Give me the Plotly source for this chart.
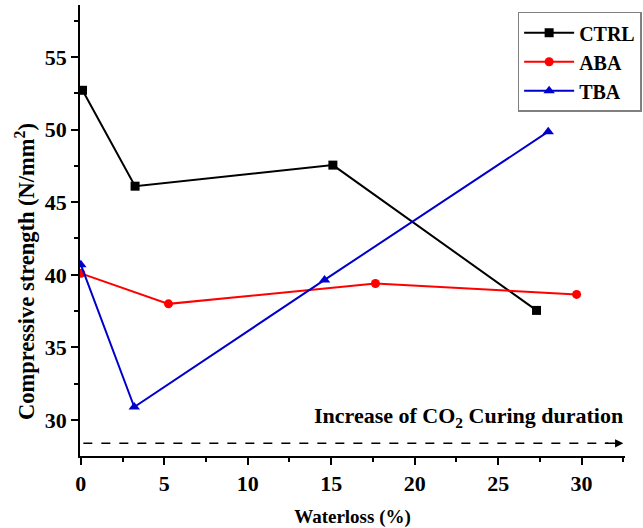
import plotly.graph_objects as go

# Data
ctrl_x = [0.1, 3.25, 15.1, 27.3]
ctrl_y = [52.7, 46.1, 47.55, 37.55]
aba_x = [0.0, 5.25, 17.65, 29.7]
aba_y = [40.1, 38.0, 39.4, 38.65]
tba_x = [0.0, 3.2, 14.6, 28.0]
tba_y = [40.7, 30.9, 39.65, 49.85]

x_ticks = [0, 5, 10, 15, 20, 25, 30]
y_ticks = [30, 35, 40, 45, 50, 55]

FONT = "Liberation Serif"

fig = go.Figure()
fig.add_trace(go.Scatter(x=ctrl_x, y=ctrl_y, mode="lines+markers", name="<b>CTRL</b>",
                         line=dict(color="black", width=2),
                         marker=dict(symbol="square", size=9, color="black")))
fig.add_trace(go.Scatter(x=aba_x, y=aba_y, mode="lines+markers", name="<b>ABA</b>",
                         line=dict(color="red", width=2),
                         marker=dict(symbol="circle", size=9, color="red")))
fig.add_trace(go.Scatter(x=tba_x, y=tba_y, mode="lines+markers", name="<b>TBA</b>",
                         line=dict(color="#0000cc", width=2),
                         marker=dict(symbol="triangle-up", size=10, color="#0000cc")))

# Dashed arrow: increase of CO2 curing duration
arrow_y = 28.4
fig.add_shape(type="line", xref="x", yref="y", x0=0.15, x1=31.6, y0=arrow_y, y1=arrow_y,
              line=dict(color="black", width=1.5, dash="dash"))
fig.add_annotation(x=32.5, y=arrow_y, ax=31.3, ay=arrow_y, xref="x", yref="y",
                   axref="x", ayref="y", showarrow=True, arrowhead=2, arrowsize=1.1,
                   arrowwidth=1.5, arrowcolor="black", text="")
fig.add_annotation(x=32.6, y=29.1, xref="x", yref="y", xanchor="right", yanchor="bottom",
                   showarrow=False,
                   text="<b>Increase of CO<sub>2</sub> Curing duration</b>",
                   font=dict(family=FONT, size=22, color="black", weight="bold"))

# Y axis title (placed as rotated annotation to match the reference position)
fig.add_annotation(x=-0.101, y=0.41, xref="paper", yref="paper", xanchor="center", yanchor="middle",
                   textangle=-90, showarrow=False,
                   text="<b>Compressive strength (N/mm<sup>2</sup>)</b>",
                   font=dict(family=FONT, size=22.5, color="black", weight="bold"))

fig.update_layout(
    width=643, height=528,
    paper_bgcolor="white", plot_bgcolor="white",
    margin=dict(l=80, r=18, t=5, b=72, autoexpand=False),
    font=dict(family=FONT, size=18, color="black"),
    showlegend=True,
    legend=dict(x=0.803, y=0.985, xanchor="left", yanchor="top",
                bordercolor="#808080", borderwidth=1.5, bgcolor="white",
                font=dict(family=FONT, size=20, color="black", weight="bold"),
                tracegroupgap=0, itemwidth=50),
)

fig.update_xaxes(range=[-0.05, 32.6], tickmode="array", tickvals=x_ticks,
                 ticktext=[f"<b>{v}</b>" for v in x_ticks],
                 showgrid=False, zeroline=False, showline=True, linecolor="black", linewidth=1.5,
                 ticks="outside", ticklen=7, tickwidth=1.5, tickcolor="black",
                 minor=dict(dtick=2.5, tick0=0, ticks="outside", ticklen=4, tickwidth=1.5, tickcolor="black"),
                 title=dict(text="<b>Waterloss (%)</b>",
                            font=dict(family=FONT, size=19, weight="bold"), standoff=16))
fig.update_xaxes(tickfont_family=FONT, tickfont_size=22, tickfont_color="black", tickfont_weight="bold")

fig.update_yaxes(range=[27.53, 58.57], tickmode="array", tickvals=y_ticks,
                 ticktext=[f"<b>{v}</b>" for v in y_ticks],
                 showgrid=False, zeroline=False, showline=True, linecolor="black", linewidth=1.5,
                 ticks="outside", ticklen=7, tickwidth=1.5, tickcolor="black",
                 minor=dict(dtick=2.5, tick0=0, ticks="outside", ticklen=4, tickwidth=1.5, tickcolor="black"))
fig.update_yaxes(tickfont_family=FONT, tickfont_size=22, tickfont_color="black", tickfont_weight="bold")

fig.write_html("out.html")
